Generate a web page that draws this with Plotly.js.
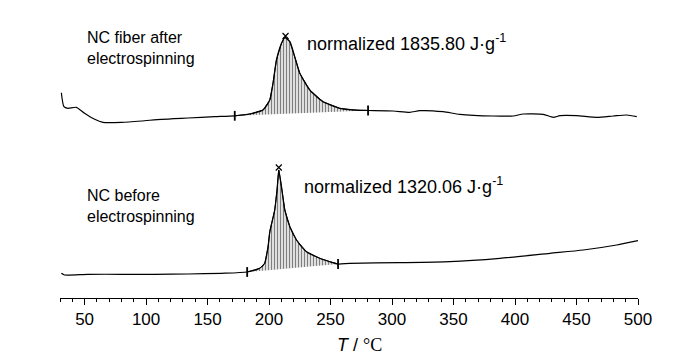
<!DOCTYPE html>
<html>
<head>
<meta charset="utf-8">
<script src="https://cdn.plot.ly/plotly-3.0.1.min.js"></script>
<style>html,body{margin:0;padding:0;background:#fff;}</style>
</head>
<body>
<div id="chart" style="width:700px;height:357px;"></div>
<script>
// Temperature (°C) and heat flow (arbitrary units)
const upperT = [31.1, 33.2, 36.4, 43.3, 50.0, 58.2, 64.9, 79.9, 96.2, 112.4, 134.1, 155.8, 172.1, 184.3, 195.1, 200.6, 203.2, 206.0, 210.1, 212.8, 216.9, 220.9, 225.0, 233.1, 243.9, 257.5, 271.1, 280.5, 300.9, 314.4, 322.6, 341.6, 355.1, 382.2, 398.5, 406.7, 422.9, 431.1, 436.5, 450.1, 466.4, 479.9, 490.8, 499.0];
const upperY = [205.3, 191.3, 189.7, 190.7, 184.7, 178.7, 175.7, 175.7, 177.0, 178.7, 180.0, 181.3, 182.2, 184.0, 188.0, 198.0, 214.7, 238.0, 254.7, 260.7, 256.3, 241.3, 224.7, 208.0, 196.3, 189.7, 187.8, 187.5, 187.0, 185.7, 187.3, 186.3, 183.7, 182.0, 182.0, 184.0, 183.7, 180.7, 182.3, 182.3, 180.7, 182.0, 183.0, 181.3];
const lowerT = [31.1, 33.7, 52.7, 79.9, 107.0, 134.1, 161.2, 182.2, 192.4, 196.5, 199.2, 200.6, 204.6, 206.5, 207.9, 210.1, 212.8, 216.9, 222.3, 230.4, 241.2, 249.4, 256.1, 265.6, 306.3, 347.0, 387.7, 428.4, 455.5, 482.7, 500.0];
const lowerY = [24.7, 23.0, 23.7, 23.7, 23.7, 24.0, 24.7, 26.0, 29.7, 34.7, 51.3, 66.3, 88.0, 108.0, 128.0, 111.3, 88.0, 71.3, 58.0, 46.3, 39.7, 36.3, 34.0, 34.7, 35.3, 36.3, 39.7, 44.7, 48.0, 53.0, 57.3];
// integration limits (°C)
const upperLimits = [172.1, 280.5];
const lowerLimits = [182.2, 256.1];
// peak markers
const peakT = [213.4, 207.9];
const peakY = [262.0, 130.5];
const labels = ["NC fiber after<br>electrospinning", "NC before<br>electrospinning"];
const enthalpy = ["1835.80", "1320.06"];
const xTicks = [50, 100, 150, 200, 250, 300, 350, 400, 450, 500];

function segment(T, Y, lim) {
  const xs = [], ys = [];
  for (let i = 0; i < T.length; i++) {
    if (T[i] >= lim[0] && T[i] <= lim[1]) { xs.push(T[i]); ys.push(Y[i]); }
  }
  return {xs, ys};
}
function limitPts(T, Y, lim) {
  return {xs: lim.slice(), ys: lim.map(v => Y[T.indexOf(v)])};
}
const uSeg = segment(upperT, upperY, upperLimits);
const lSeg = segment(lowerT, lowerY, lowerLimits);
const uLim = limitPts(upperT, upperY, upperLimits);
const lLim = limitPts(lowerT, lowerY, lowerLimits);

const lineStyle = {color: '#000', width: 1.2, shape: 'spline', smoothing: 0.6};
const hatch = {shape: '|', size: 3, solidity: 0.5, fgcolor: '#000', bgcolor: 'rgba(0,0,0,0)', fillmode: 'overlay'};

const traces = [
  {x: uSeg.xs, y: uSeg.ys, mode: 'lines', fill: 'toself', fillcolor: 'rgba(0,0,0,0)', fillpattern: hatch, line: {color: '#000', width: 1}, hoverinfo: 'skip'},
  {x: lSeg.xs, y: lSeg.ys, mode: 'lines', fill: 'toself', fillcolor: 'rgba(0,0,0,0)', fillpattern: hatch, line: {color: '#000', width: 1}, hoverinfo: 'skip'},
  {x: upperT, y: upperY, mode: 'lines', line: lineStyle},
  {x: lowerT, y: lowerY, mode: 'lines', line: lineStyle},
  {x: uLim.xs.concat(lLim.xs), y: uLim.ys.concat(lLim.ys), mode: 'markers', marker: {symbol: 'line-ns', size: 7, line: {color: '#000', width: 1.8}}},
  {x: peakT, y: peakY, mode: 'markers', marker: {symbol: 'x-thin', size: 6, line: {color: '#000', width: 1.2}}}
];

const font = {family: 'Liberation Sans, Arial, sans-serif', size: 16, color: '#000'};
const bigFont = {family: 'Liberation Sans, Arial, sans-serif', size: 18, color: '#000'};
const layout = {
  width: 700, height: 357,
  margin: {l: 60, r: 62, t: 10, b: 59},
  paper_bgcolor: '#fff', plot_bgcolor: '#fff',
  showlegend: false,
  font: font,
  xaxis: {
    range: [30, 500], tickvals: xTicks, showline: true, linecolor: '#000', linewidth: 1,
    ticks: 'outside', ticklen: 6, tickwidth: 1, tickcolor: '#000',
    minor: {dtick: 10, tick0: 30, ticks: 'outside', ticklen: 3, tickwidth: 1, tickcolor: '#000', showgrid: false},
    showgrid: false, zeroline: false,
    tickfont: {family: 'Liberation Sans, Arial, sans-serif', size: 17, color: '#000'}
  },
  yaxis: {range: [0, 288], visible: false},
  annotations: [
    {x: 50.3, y: 250, xref: 'x', yref: 'y', xanchor: 'left', yanchor: 'middle', align: 'left', showarrow: false, text: labels[0], font: font},
    {x: 229.2, y: 256, xref: 'x', yref: 'y', xanchor: 'left', yanchor: 'middle', align: 'left', showarrow: false, text: 'normalized ' + enthalpy[0] + ' J·g<sup>-1</sup>', font: bigFont},
    {x: 50.3, y: 92, xref: 'x', yref: 'y', xanchor: 'left', yanchor: 'middle', align: 'left', showarrow: false, text: labels[1], font: font},
    {x: 226.8, y: 113, xref: 'x', yref: 'y', xanchor: 'left', yanchor: 'middle', align: 'left', showarrow: false, text: 'normalized ' + enthalpy[1] + ' J·g<sup>-1</sup>', font: bigFont},
    {x: 0.519, y: -0.163, xref: 'paper', yref: 'paper', xanchor: 'center', yanchor: 'middle', showarrow: false,
     text: '<i>T</i> / <span style="font-family:Liberation Serif, Times New Roman, serif">°C</span>', font: {family: 'Liberation Sans, Arial, sans-serif', size: 18, color: '#000'}}
  ]
};
Plotly.newPlot('chart', traces, layout, {displayModeBar: false, staticPlot: true});
</script>
</body>
</html>
